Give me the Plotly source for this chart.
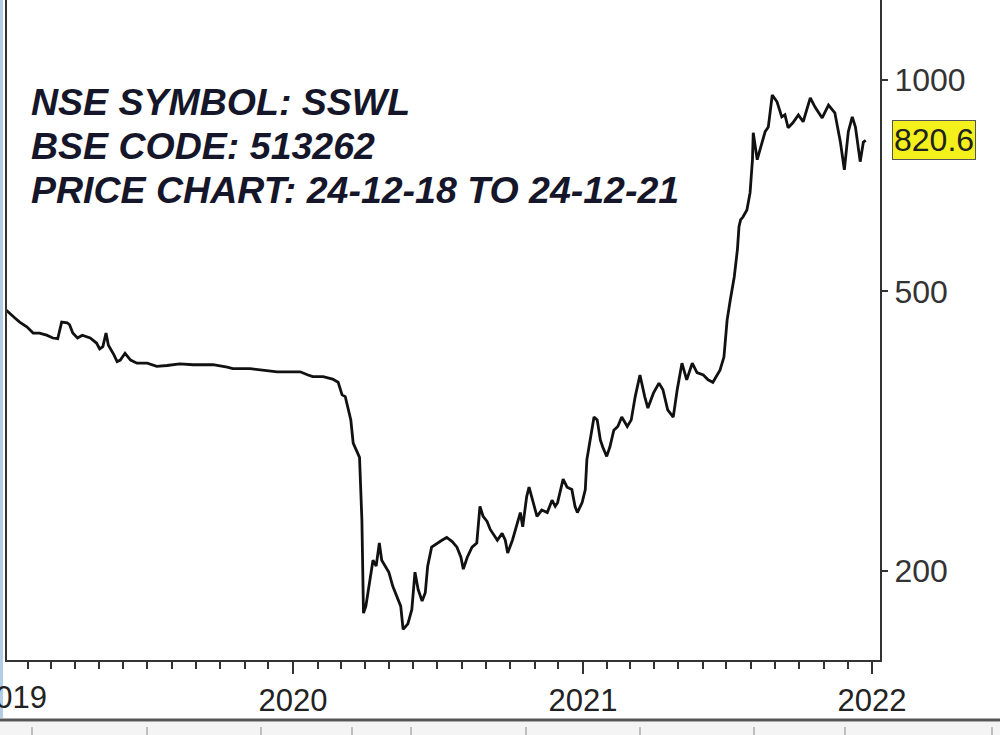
import math
import plotly.graph_objects as go

# ---- data ----
dates = [
    "2018-12-24", "2019-01-04", "2019-01-15", "2019-01-21", "2019-01-30", "2019-02-07", "2019-02-15",
    "2019-02-24", "2019-03-04", "2019-03-10", "2019-03-15", "2019-03-22", "2019-03-25", "2019-03-29",
    "2019-04-04", "2019-04-10", "2019-04-20", "2019-04-28", "2019-05-02", "2019-05-06", "2019-05-10",
    "2019-05-13", "2019-05-20", "2019-05-24", "2019-05-28", "2019-06-03", "2019-06-10", "2019-06-18",
    "2019-07-01", "2019-07-13", "2019-07-26", "2019-08-11", "2019-08-28", "2019-09-22", "2019-10-10",
    "2019-10-17", "2019-11-08", "2019-11-24", "2019-12-12", "2019-12-28", "2020-01-10", "2020-01-20",
    "2020-01-26", "2020-02-08", "2020-02-20", "2020-02-27", "2020-03-03", "2020-03-07", "2020-03-10",
    "2020-03-14", "2020-03-17", "2020-03-22", "2020-03-25", "2020-03-28", "2020-03-30", "2020-04-02",
    "2020-04-06", "2020-04-11", "2020-04-15", "2020-04-19", "2020-04-22", "2020-04-26", "2020-05-01",
    "2020-05-06", "2020-05-13", "2020-05-16", "2020-05-19", "2020-05-25", "2020-05-30", "2020-06-03",
    "2020-06-07", "2020-06-12", "2020-06-16", "2020-06-19", "2020-06-24", "2020-07-01", "2020-07-07",
    "2020-07-13", "2020-07-20", "2020-07-26", "2020-07-31", "2020-08-03", "2020-08-08", "2020-08-14",
    "2020-08-20", "2020-08-24", "2020-08-28", "2020-09-02", "2020-09-06", "2020-09-15", "2020-09-21",
    "2020-09-25", "2020-09-28", "2020-10-04", "2020-10-10", "2020-10-14", "2020-10-17", "2020-10-22",
    "2020-10-25", "2020-10-30", "2020-11-04", "2020-11-10", "2020-11-17", "2020-11-23", "2020-11-27",
    "2020-11-30", "2020-12-07", "2020-12-12", "2020-12-18", "2020-12-22", "2020-12-25", "2020-12-31",
    "2021-01-04", "2021-01-06", "2021-01-12", "2021-01-15", "2021-01-19", "2021-01-23", "2021-01-26",
    "2021-01-31", "2021-02-04", "2021-02-09", "2021-02-14", "2021-02-19", "2021-02-26", "2021-03-03",
    "2021-03-08", "2021-03-14", "2021-03-20", "2021-03-24", "2021-03-31", "2021-04-07", "2021-04-12",
    "2021-04-18", "2021-04-25", "2021-04-30", "2021-05-06", "2021-05-12", "2021-05-19", "2021-05-25",
    "2021-06-02", "2021-06-08", "2021-06-14", "2021-06-23", "2021-06-28", "2021-07-02", "2021-07-06",
    "2021-07-11", "2021-07-15", "2021-07-17", "2021-07-19", "2021-07-22", "2021-07-27", "2021-07-31",
    "2021-08-03", "2021-08-04", "2021-08-09", "2021-08-13", "2021-08-19", "2021-08-23", "2021-08-28",
    "2021-09-03", "2021-09-09", "2021-09-13", "2021-09-17", "2021-09-23", "2021-09-30", "2021-10-06",
    "2021-10-15", "2021-10-21", "2021-10-30", "2021-11-07", "2021-11-15", "2021-11-22", "2021-11-27",
    "2021-12-02", "2021-12-07", "2021-12-11", "2021-12-17", "2021-12-21", "2021-12-24",
]
prices = [
    473, 470, 458, 452, 445, 436, 436,
    433, 429, 428, 452, 451, 448, 436,
    429, 433, 429, 422, 414, 417, 436,
    419, 406, 397, 399, 408, 399, 395,
    395, 391, 392, 394, 393, 393, 390,
    388, 388, 386, 384, 384, 384, 380,
    378, 378, 375, 371, 356, 354, 344,
    328, 304, 295, 290, 236, 174, 178,
    190, 207, 203, 219, 207, 203, 199,
    190, 181, 178, 165, 168, 176, 199,
    188, 181, 186, 203, 216, 219, 221,
    223, 220, 216, 209, 201, 209, 216,
    219, 247, 239, 235, 229, 221, 226,
    221, 212, 221, 234, 242, 231, 255,
    263, 250, 239, 244, 242, 252, 247,
    250, 270, 263, 261, 247, 242, 250,
    261, 288, 314, 331, 328, 307, 300,
    291, 300, 317, 321, 331, 321, 328,
    354, 380, 354, 341, 358, 370, 362,
    339, 331, 362, 395, 374, 395, 383,
    380, 374, 371, 386, 403, 455, 486,
    524, 573, 618, 632, 638, 653, 691,
    770, 841, 770, 800, 844, 857, 952,
    931, 886, 892, 855, 869, 892, 872,
    943, 915, 883, 921, 898, 816, 745,
    844, 886, 857, 765, 816, 820.6,
]

title_lines = ["NSE SYMBOL: SSWL", "BSE CODE: 513262", "PRICE CHART: 24-12-18 TO 24-12-21"]
y_tick_values = [200, 500, 1000]
first_year_label = "2019"
last_price = prices[-1]

# ---- page geometry ----
W, H = 1000, 735
PL, PR, PT, PB = 7, 880, 0, 660          # plot frame in page pixels
pw, ph = PR - PL, PB - PT

def px_x(x):
    return (x - PL) / pw

def px_y(y):
    return (PB - y) / ph

fig = go.Figure()
fig.add_trace(go.Scatter(
    x=dates, y=prices, mode="lines",
    line=dict(color="#111111", width=2.8, shape="linear"),
    hoverinfo="skip", showlegend=False,
))

axis_col = "#333333"
fig.update_layout(
    width=W, height=H,
    margin=dict(l=PL, r=W - PR, t=PT, b=H - PB, pad=0),
    paper_bgcolor="white", plot_bgcolor="white",
    font=dict(family="Liberation Sans, Arial, sans-serif", color="#222222"),
    xaxis=dict(
        type="date",
        range=["2019-01-05", "2022-01-11"],
        showgrid=False, zeroline=False,
        showline=True, linecolor=axis_col, linewidth=2, mirror=False,
        ticks="outside", ticklen=12, tickwidth=1.5, tickcolor=axis_col,
        tick0="2019-01-01", dtick="M12", tickformat="%Y",
        tickfont=dict(size=31, color="#222222"),
        ticklabelstandoff=0,
        minor=dict(ticks="outside", ticklen=7, tickwidth=1.5, tickcolor=axis_col,
                   dtick="M1", tick0="2019-01-01", showgrid=False),
    ),
    yaxis=dict(
        type="log", side="right",
        range=[3 - 580 / 702, 3 + 80 / 702],
        showgrid=False, zeroline=False,
        showline=True, linecolor=axis_col, linewidth=2, mirror=True,
        ticks="outside", ticklen=6, tickwidth=1.5, tickcolor=axis_col,
        tickvals=y_tick_values, ticktext=[str(v) for v in y_tick_values],
        tickfont=dict(size=32, color="#333333"),
        ticklabelstandoff=0,
    ),
)

# title block text
for i, line in enumerate(title_lines):
    fig.add_annotation(
        xref="paper", yref="paper", x=px_x(29), y=px_y(102 + 44 * i),
        xanchor="left", yanchor="middle", showarrow=False,
        text="<b><i>" + line + "</i></b>",
        font=dict(size=37.5, color="#16162a", family="Liberation Sans, Arial, sans-serif"),
    )

# last price flag
fig.add_annotation(
    xref="paper", yref="y", x=px_x(892), y=math.log10(last_price),
    xanchor="left", yanchor="middle", showarrow=False,
    text=f"{last_price}", font=dict(size=32, color="#222222"),
    bgcolor="#f4f01c", bordercolor="#555555", borderwidth=1, borderpad=1,
)

# partially visible first year label (cut at the left edge, as in the reference)
fig.add_annotation(
    xref="paper", yref="paper", x=px_x(12), y=px_y(697),
    xanchor="center", yanchor="middle", showarrow=False,
    text=first_year_label, font=dict(size=31, color="#222222"),
)

# decorative frame pieces: left blue edge, lower panel separator
fig.add_shape(type="rect", xref="paper", yref="paper",
              x0=px_x(0), x1=px_x(3), y0=px_y(718), y1=px_y(0),
              fillcolor="#b4cde6", line=dict(width=0), layer="above")
fig.add_shape(type="rect", xref="paper", yref="paper",
              x0=px_x(0), x1=px_x(W), y0=px_y(735), y1=px_y(722),
              fillcolor="#f4f4f4", line=dict(width=0), layer="below")
fig.add_shape(type="line", xref="paper", yref="paper",
              x0=px_x(0), x1=px_x(W), y0=px_y(720), y1=px_y(720),
              line=dict(color="#555555", width=3))
for xp in [32, 147, 261, 352, 411, 526, 640, 754, 845, 992]:
    fig.add_shape(type="line", xref="paper", yref="paper",
                  x0=px_x(xp), x1=px_x(xp), y0=px_y(735), y1=px_y(727),
                  line=dict(color="#888888", width=1))

fig.write_html("out.html", config={"displayModeBar": False},
               post_script="document.body.style.margin='0px';")
